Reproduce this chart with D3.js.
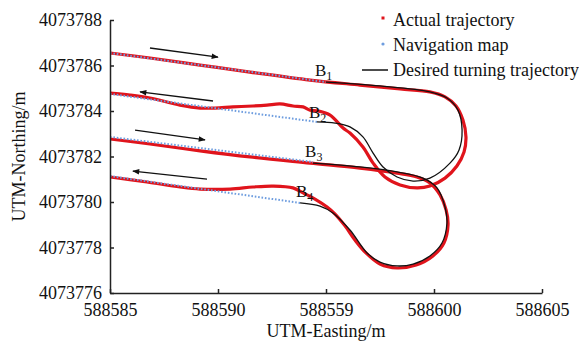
<!DOCTYPE html>
<html>
<head>
<meta charset="utf-8">
<script src="https://cdn.jsdelivr.net/npm/d3@7"></script>
<style>
  body { margin: 0; background: #fff; }
  svg { display: block; font-family: "Liberation Serif", "Times New Roman", serif; }
  .axis path, .axis line { stroke: #222; stroke-width: 1.5; }
  .axis text { font-size: 18px; fill: #111; font-family: "Liberation Serif", serif; }
</style>
</head>
<body>
<svg width="579" height="342"></svg>
<script>
// tick values and labels (x labels kept as printed, incl. "588559")
const eastingTicks = [588585, 588590, 588595, 588600, 588605];
const eastingTickLabels = ["588585", "588590", "588559", "588600", "588605"];
const northingTicks = [4073776, 4073778, 4073780, 4073782, 4073784, 4073786, 4073788];

// actual trajectory: pass 1 -> bulb turn -> pass 2
const actualTurn1 = [
  [588585.00, 4073786.55], [588586.85, 4073786.33], [588589.17, 4073786.02],
  [588591.48, 4073785.71], [588594.26, 4073785.36], [588596.57, 4073785.14],
  [588598.43, 4073784.97], [588599.81, 4073784.84], [588600.51, 4073784.62],
  [588601.02, 4073784.22], [588601.34, 4073783.60], [588601.48, 4073782.86],
  [588601.39, 4073782.20], [588601.06, 4073781.58], [588600.51, 4073781.05],
  [588599.81, 4073780.70], [588599.21, 4073780.62], [588598.43, 4073780.75],
  [588597.73, 4073781.10], [588597.18, 4073781.71], [588596.71, 4073782.42],
  [588596.11, 4073783.03], [588595.79, 4073783.25], [588595.19, 4073783.82],
  [588594.63, 4073784.00], [588594.26, 4073784.04], [588593.94, 4073784.18],
  [588593.47, 4073784.22], [588592.87, 4073784.31], [588592.27, 4073784.26],
  [588591.62, 4073784.22], [588590.69, 4073784.18], [588589.86, 4073784.13],
  [588589.17, 4073784.13], [588588.24, 4073784.26], [588586.85, 4073784.57],
  [588585.93, 4073784.70], [588585.00, 4073784.79]
];

// actual trajectory: pass 3 -> bulb turn -> pass 4
const actualTurn2 = [
  [588585.00, 4073782.77], [588586.85, 4073782.55], [588589.17, 4073782.25],
  [588591.48, 4073781.98], [588594.26, 4073781.71], [588596.57, 4073781.49],
  [588598.29, 4073781.27], [588599.21, 4073781.10], [588599.81, 4073780.84],
  [588600.28, 4073780.31], [588600.56, 4073779.65], [588600.65, 4073778.99],
  [588600.46, 4073778.20], [588599.95, 4073777.63], [588599.17, 4073777.23],
  [588598.29, 4073777.10], [588597.50, 4073777.27], [588596.85, 4073777.76],
  [588596.34, 4073778.33], [588595.88, 4073778.95], [588595.42, 4073779.47],
  [588595.05, 4073779.78], [588594.49, 4073780.13], [588593.94, 4073780.40],
  [588593.47, 4073780.62], [588592.55, 4073780.70], [588591.62, 4073780.66],
  [588590.56, 4073780.57], [588589.17, 4073780.57], [588588.24, 4073780.66],
  [588586.71, 4073780.88], [588585.00, 4073781.10]
];

// navigation map (straight passes up to the turn points B1..B4)
const navPass1 = [[588585.00, 4073786.55], [588595.00, 4073785.27]];
const navPass2 = [[588585.00, 4073784.75], [588594.58, 4073783.52]];
const navPass3 = [[588585.00, 4073782.86], [588594.40, 4073781.76]];
const navPass4 = [[588585.00, 4073781.14], [588593.80, 4073779.96]];

// desired turning trajectories
const desiredTurn1 = [
  [588595.00, 4073785.27], [588597.50, 4073785.10], [588599.81, 4073784.84],
  [588600.60, 4073784.57], [588601.11, 4073784.04], [588601.30, 4073783.16],
  [588601.16, 4073782.29], [588600.74, 4073781.71], [588599.81, 4073781.05],
  [588599.03, 4073780.92], [588598.29, 4073781.10], [588597.64, 4073781.54],
  [588597.18, 4073782.15], [588596.71, 4073782.86], [588596.11, 4073783.30],
  [588595.42, 4073783.47], [588594.58, 4073783.52]
];
const desiredTurn2 = [
  [588594.40, 4073781.71], [588596.57, 4073781.54], [588598.29, 4073781.32],
  [588599.49, 4073781.05], [588600.14, 4073780.62], [588600.51, 4073779.78],
  [588600.60, 4073779.08], [588600.37, 4073778.20], [588599.81, 4073777.63],
  [588599.03, 4073777.27], [588598.29, 4073777.19], [588597.50, 4073777.36],
  [588596.90, 4073777.76], [588596.11, 4073778.77], [588595.32, 4073779.52],
  [588594.72, 4073779.82], [588593.80, 4073779.96]
];

// direction arrows [tail, head]
const arrows = [
  [[588586.85, 4073786.77], [588590.00, 4073786.37]],
  [[588589.77, 4073784.44], [588586.39, 4073784.84]],
  [[588586.16, 4073783.16], [588589.40, 4073782.73]],
  [[588589.49, 4073781.01], [588586.06, 4073781.36]]
];

// turn point labels
const turnLabels = [
  { name: "B", sub: "1", at: [588594.49, 4073785.54] },
  { name: "B", sub: "2", at: [588594.21, 4073783.69] },
  { name: "B", sub: "3", at: [588594.03, 4073781.98] },
  { name: "B", sub: "4", at: [588593.61, 4073780.22] }
];

const svg = d3.select("svg");
const width = +svg.attr("width");
const height = +svg.attr("height");
const margin = { top: 20, right: 37, bottom: 49, left: 110 };

const x = d3.scaleLinear().domain([588585, 588605]).range([margin.left, width - margin.right]);
const y = d3.scaleLinear().domain([4073776, 4073788]).range([height - margin.bottom, margin.top]);

const red = "#e0141c";
const blue = "#6e9ddf";

svg.append("defs").append("clipPath").attr("id", "plot")
  .append("rect")
  .attr("x", margin.left).attr("y", margin.top - 5)
  .attr("width", width - margin.left - margin.right)
  .attr("height", height - margin.top - margin.bottom + 5);

svg.select("defs").append("marker")
  .attr("id", "head")
  .attr("viewBox", "0 0 10 10")
  .attr("refX", 9).attr("refY", 5)
  .attr("markerWidth", 10).attr("markerHeight", 7)
  .attr("markerUnits", "userSpaceOnUse")
  .attr("orient", "auto")
  .append("path")
  .attr("d", "M0,1 L10,5 L0,9 Z")
  .attr("fill", "#111");

const line = d3.line()
  .x(d => x(d[0]))
  .y(d => y(d[1]))
  .curve(d3.curveCatmullRom.alpha(0.5));

const plot = svg.append("g").attr("clip-path", "url(#plot)");

// actual trajectory (thick red)
plot.selectAll("path.actual")
  .data([actualTurn1, actualTurn2])
  .join("path")
  .attr("class", "actual")
  .attr("d", line)
  .attr("fill", "none")
  .attr("stroke", red)
  .attr("stroke-width", 3.2)
  .attr("stroke-linejoin", "round");

// navigation map (blue dots)
plot.selectAll("path.nav")
  .data([navPass1, navPass2, navPass3, navPass4])
  .join("path")
  .attr("class", "nav")
  .attr("d", d3.line().x(d => x(d[0])).y(d => y(d[1])))
  .attr("fill", "none")
  .attr("stroke", blue)
  .attr("stroke-width", 2)
  .attr("stroke-dasharray", "1.6 1.8");

// desired turning trajectory (black)
plot.selectAll("path.desired")
  .data([desiredTurn1, desiredTurn2])
  .join("path")
  .attr("class", "desired")
  .attr("d", line)
  .attr("fill", "none")
  .attr("stroke", "#111")
  .attr("stroke-width", 1.3);

// arrows
svg.append("g").selectAll("line")
  .data(arrows)
  .join("line")
  .attr("x1", d => x(d[0][0])).attr("y1", d => y(d[0][1]))
  .attr("x2", d => x(d[1][0])).attr("y2", d => y(d[1][1]))
  .attr("stroke", "#111")
  .attr("stroke-width", 1.3)
  .attr("marker-end", "url(#head)");

// B labels
const bl = svg.append("g").selectAll("text")
  .data(turnLabels)
  .join("text")
  .attr("x", d => x(d.at[0]))
  .attr("y", d => y(d.at[1]))
  .attr("font-size", 17)
  .attr("fill", "#111");
bl.append("tspan").text(d => d.name);
bl.append("tspan").attr("font-size", 12).attr("dy", 4).text(d => d.sub);

// axes
svg.append("g")
  .attr("class", "axis")
  .attr("transform", `translate(0,${height - margin.bottom})`)
  .call(d3.axisBottom(x)
    .tickValues(eastingTicks)
    .tickFormat((d, i) => eastingTickLabels[i])
    .tickSizeInner(-4).tickSizeOuter(0).tickPadding(10));

svg.append("g")
  .attr("class", "axis")
  .attr("transform", `translate(${margin.left},0)`)
  .call(d3.axisLeft(y)
    .tickValues(northingTicks)
    .tickFormat(d3.format("d"))
    .tickSizeInner(-4).tickSizeOuter(0).tickPadding(8));

// axis titles
svg.append("text")
  .attr("x", (margin.left + width - margin.right) / 2)
  .attr("y", 337)
  .attr("text-anchor", "middle")
  .attr("font-size", 18)
  .attr("fill", "#111")
  .text("UTM-Easting/m");

svg.append("text")
  .attr("transform", `translate(25,${(margin.top + height - margin.bottom) / 2}) rotate(-90)`)
  .attr("text-anchor", "middle")
  .attr("font-size", 18)
  .attr("fill", "#111")
  .text("UTM-Northing/m");

// legend
const legend = svg.append("g").attr("transform", "translate(383,0)");
legend.append("rect").attr("x", -1.5).attr("y", 16.5).attr("width", 3).attr("height", 3).attr("fill", red);
legend.append("circle").attr("cx", 0).attr("cy", 44).attr("r", 1.6).attr("fill", blue);
legend.append("line").attr("x1", -21).attr("x2", 5).attr("y1", 70).attr("y2", 70)
  .attr("stroke", "#111").attr("stroke-width", 1.5);
legend.selectAll("text.lg")
  .data(["Actual trajectory", "Navigation map", "Desired turning trajectory"])
  .join("text")
  .attr("class", "lg")
  .attr("x", 10)
  .attr("y", (d, i) => 26 + i * 25)
  .attr("font-size", 18)
  .attr("fill", "#111")
  .text(d => d);
</script>
</body>
</html>
